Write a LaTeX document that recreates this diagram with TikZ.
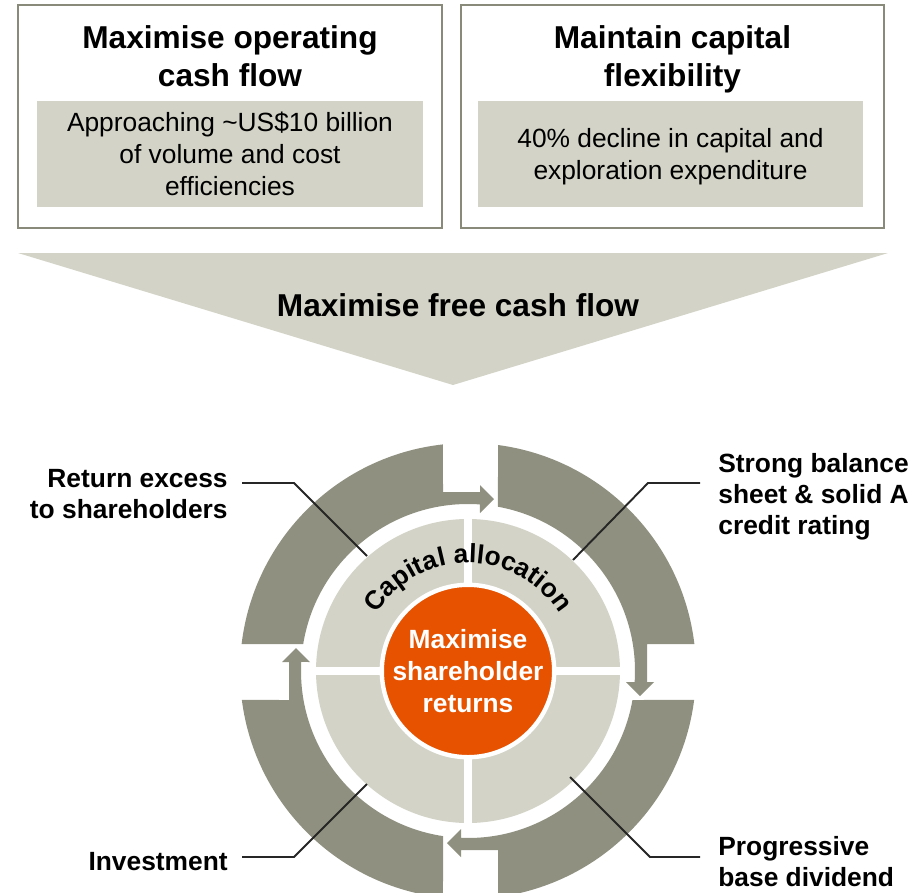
\documentclass[tikz,border=0pt]{standalone}
\usepackage{fontspec}
\setmainfont{Liberation Sans}
\usetikzlibrary{positioning, decorations.text}
\definecolor{segdark}{RGB}{144,144,128}
\definecolor{seglight}{RGB}{211,211,199}
\definecolor{coreorange}{RGB}{230,82,0}
\definecolor{boxedge}{RGB}{138,138,122}
\newcommand{\ringfont}{\fontsize{15}{18}\selectfont\bfseries}

\begin{document}
\begin{tikzpicture}[
    x=0.02cm, y=0.02cm,
    font=\fontsize{15}{18.2}\selectfont,
    goalbox/.style = {
        rectangle, draw=boxedge, line width=1.2pt, fill=white,
        minimum width=8.48cm, minimum height=4.46cm
    },
    goaltitle/.style = {font=\fontsize{18}{21.6}\selectfont\bfseries, align=center},
    goalnote/.style = {
        rectangle, fill=seglight, minimum width=7.72cm,
        minimum height=2.12cm, align=center
    },
    seg/.style = {fill=segdark},
    core/.style = {
        circle, fill=coreorange, draw=white, line width=2.5pt,
        minimum size=3.4cm, inner sep=0pt, align=center, text=white,
        font=\fontsize{15}{18.2}\selectfont\bfseries
    },
    lab/.style = {inner sep=0pt, font=\fontsize{15}{17.7}\selectfont\bfseries},
    leader/.style = {line width=1.1pt, draw=black!85},
]
\useasboundingbox (0,0) rectangle (914,-893);
\clip (0,0) rectangle (914,-893);

% top goals
\node[goalbox] (opbox) at (230,-116.5) {};
\node[goalbox, minimum width=8.46cm] (capbox) at (672.5,-116.5) {};
\node[goaltitle] (optitle) at (230,-56) {Maximise operating\\cash flow};
\node[goaltitle] (captitle) at (672.5,-59) {Maintain capital\\flexibility};
\node[goalnote] (opnote) at (230,-154) {Approaching \textasciitilde US\$10 billion\\of volume and cost\\efficiencies};
\node[goalnote, minimum width=7.7cm] (capnote) at (670.5,-154) {};
\node[align=center] (captext) at (670.5,-157) {40\% decline in capital and\\exploration expenditure};

% funnel
\fill[seglight] (18,-253) -- (888,-253) -- (453,-385) -- cycle;
\node[goaltitle] (fcf) at (458,-305) {Maximise free cash flow};

% allocation wheel
\begin{scope}[shift={(468,-671)}]
    \fill[seg] (173.2:228) arc[start angle=173.2, end angle=96.3, radius=228]
        -- (-25,179) -- (12,179) -- (12,186) -- (26,172) -- (12,158)
        -- (85.9:167) arc[start angle=85.9, end angle=170.7, radius=167] -- cycle;
    \fill[seg] (82.4:228) arc[start angle=82.4, end angle=6.8, radius=228]
        -- (179,27) -- (179,-11) -- (186,-11) -- (172,-25) -- (158,-11)
        -- (-3.8:167) arc[start angle=-3.8, end angle=79.7, radius=167] -- cycle;
    \fill[seg] (-7.3:228) arc[start angle=-7.3, end angle=-82.4, radius=228]
        -- (30,-179) -- (-7,-179) -- (-7,-186) -- (-21,-172) -- (-7,-158)
        -- (-92.4:167) arc[start angle=-92.4, end angle=-10, radius=167] -- cycle;
    \fill[seg] (-96.3:228) arc[start angle=-96.3, end angle=-172.7, radius=228]
        -- (-179,-29) -- (-179,9) -- (-186,9) -- (-172,23) -- (-158,9)
        -- (176.9:167) arc[start angle=176.9, end angle=261.4, radius=167] -- cycle;

    \fill[seglight] (0,0) circle[radius=152];
    \draw[white, line width=5.1pt] (0,-156) -- (0,156) (-156,0) -- (156,0);
    \path[decorate, decoration={text along path, text align=center,
        text={|\ringfont|Capital allocation}}]
        (180:108) arc[start angle=180, end angle=0, radius=108];
    \node[core] (core) at (0,0) {Maximise\\shareholder\\returns};
\end{scope}

% labels
\node[lab, anchor=east, align=right] (retlab) at (228,-494) {Return excess\\to shareholders};
\node[lab, anchor=west, align=left] (ballab) at (718,-497) {Strong balance\\sheet \& solid A\\credit rating};
\node[lab, anchor=east] (invlab) at (228,-862) {Investment};
\node[lab, anchor=west, align=left] (divlab) at (718,-862) {Progressive\\base dividend};

\coordinate (ret-out) at (242,-483);
\coordinate (ret-in) at (367,-556);
\coordinate (bal-out) at (700,-483);
\coordinate (bal-in) at (573,-560);
\coordinate (inv-out) at (242,-857);
\coordinate (inv-in) at (367,-784);
\coordinate (div-out) at (700,-857);
\coordinate (div-in) at (570,-777);

\draw[leader] (ret-out) -- ++(52,0) -- (ret-in);
\draw[leader] (bal-out) -- ++(-52,0) -- (bal-in);
\draw[leader] (inv-out) -- ++(52,0) -- (inv-in);
\draw[leader] (div-out) -- ++(-50,0) -- (div-in);

\end{tikzpicture}
\end{document}
